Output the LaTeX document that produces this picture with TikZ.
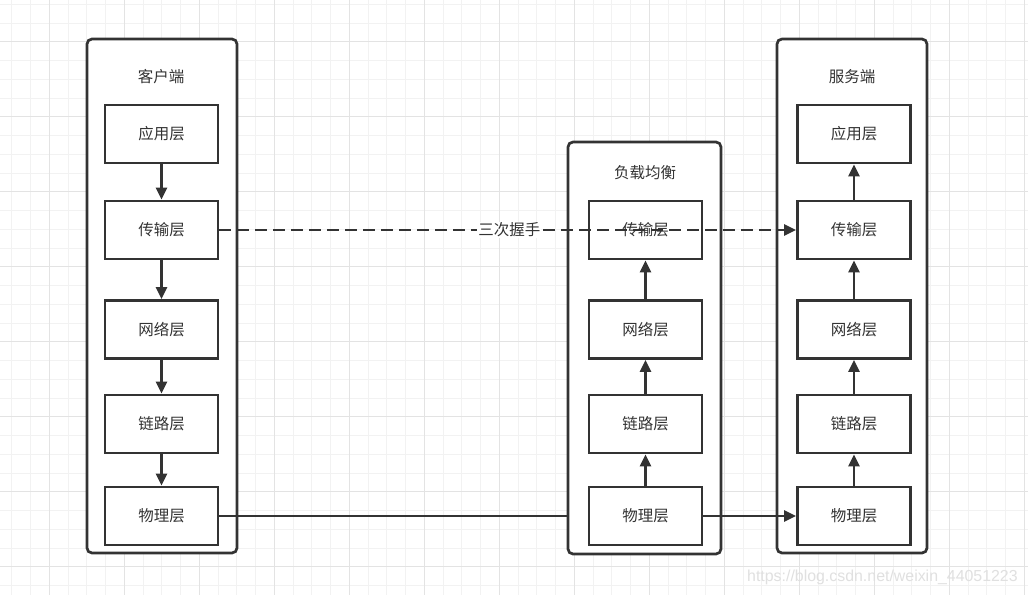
\documentclass[tikz,border=0pt]{standalone}
\usepackage{fontspec}
\setmainfont{Liberation Sans}
\newfontfamily\cjk{Noto Sans CJK SC}
\usetikzlibrary{arrows.meta}
\definecolor{ink}{HTML}{333333}
\definecolor{gridminor}{HTML}{F2F2F2}
\definecolor{gridmajor}{HTML}{E3E3E3}
\definecolor{wmark}{HTML}{E0E0E0}
\begin{document}
\begin{tikzpicture}[x=1pt,y=-1pt,
  container/.style={draw=ink,line width=2.7pt,rounded corners=5pt,fill=white,inner sep=0pt},
  layer/.style={draw=ink,line width=2.7pt,fill=white,minimum width=113pt,minimum height=58pt,inner sep=0pt,font=\cjk\fontsize{15.5}{18}\selectfont,text=ink},
  title/.style={font=\cjk\fontsize{15.5}{18}\selectfont,text=ink,inner sep=1pt},
  conn/.style={draw=ink,line width=2.5pt},
  tip/.style={-{Triangle[length=12pt,width=11pt]}},
  wm/.style={font=\fontsize{15.9}{19}\selectfont,text=wmark,inner sep=0pt}
]
\useasboundingbox (0,0) rectangle (1028,595);
\fill[white] (0,0) rectangle (1028,595);
% grid
\foreach \i in {0,...,55} {
  \draw[gridminor,line width=0.9pt] ({11.8+18.75*\i},0) -- ({11.8+18.75*\i},595);
}
\foreach \j in {0,...,32} {
  \draw[gridminor,line width=0.9pt] (0,{4.2+18.75*\j}) -- (1028,{4.2+18.75*\j});
}
\foreach \i in {0,...,13} {
  \draw[gridmajor,line width=1pt] ({49.3+75*\i},0) -- ({49.3+75*\i},595);
}
\foreach \j in {0,...,7} {
  \draw[gridmajor,line width=1pt] (0,{41.7+75*\j}) -- (1028,{41.7+75*\j});
}

% containers
\node[container,minimum width=150pt,minimum height=514pt] (client) at (162,296) {};
\node[container,minimum width=153pt,minimum height=412pt] (lb) at (644.5,348) {};
\node[container,minimum width=150pt,minimum height=514pt] (server) at (852,296) {};

\node[title] (ct) at (161,77) {客户端};
\node[title] (lt) at (645,173) {负载均衡};
\node[title] (st) at (852,77) {服务端};

% client layers
\node[layer] (ca) at (161.5,134) {应用层};
\node[layer] (ct2) at (161.5,230) {传输层};
\node[layer] (cn) at (161.5,329.5) {网络层};
\node[layer] (cl) at (161.5,424) {链路层};
\node[layer] (cp) at (161.5,516) {物理层};

% lb layers
\node[layer] (lt2) at (645.5,230) {传输层};
\node[layer] (ln) at (645.5,329.5) {网络层};
\node[layer] (ll) at (645.5,424) {链路层};
\node[layer] (lp) at (645.5,516) {物理层};

% server layers
\node[layer] (sa) at (854,134) {应用层};
\node[layer] (st2) at (854,230) {传输层};
\node[layer] (sn) at (854,329.5) {网络层};
\node[layer] (sl) at (854,424) {链路层};
\node[layer] (sp) at (854,516) {物理层};

% client arrows (down)
\draw[conn,tip] (ca) -- (ct2);
\draw[conn,tip] (ct2) -- (cn);
\draw[conn,tip] (cn) -- (cl);
\draw[conn,tip] (cl) -- (cp);

% lb arrows (up)
\draw[conn,tip] (lp) -- (ll);
\draw[conn,tip] (ll) -- (ln);
\draw[conn,tip] (ln) -- (lt2);

% server arrows (up)
\draw[conn,tip] (sp) -- (sl);
\draw[conn,tip] (sl) -- (sn);
\draw[conn,tip] (sn) -- (st2);
\draw[conn,tip] (st2) -- (sa);

% physical links
\draw[conn] (cp.east) -- (cp.east -| lb.west);
\draw[conn,tip] (lp.east) -- (sp.west);

% three-way handshake
\draw[conn,tip,dash pattern=on 12pt off 6pt] (ct2.east) -- node[fill=white,inner sep=1pt,font=\cjk\fontsize{15.5}{18}\selectfont,text=ink,pos=0.503] (hs) {三次握手} (st2.west);

% watermark
\node[wm,anchor=west] (wmk) at (747,577) {https://blog.csdn.net/weixin\_44051223};
\end{tikzpicture}
\end{document}
